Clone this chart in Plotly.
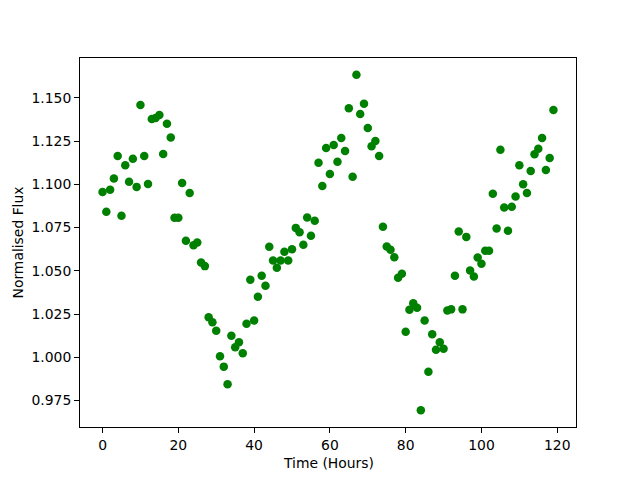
import plotly.graph_objects as go

hours = list(range(120))
flux = [
    1.0956, 1.0841, 1.0968, 1.1033, 1.1164, 1.0818, 1.1110, 1.1014, 1.1148, 1.0985,
    1.1458, 1.1164, 1.1002, 1.1377, 1.1383, 1.1400, 1.1175, 1.1350, 1.1270, 1.0806,
    1.0806, 1.1008, 1.0673, 1.0950, 1.0648, 1.0664, 1.0548, 1.0527, 1.0231, 1.0202,
    1.0154, 1.0006, 0.9946, 0.9844, 1.0125, 1.0058, 1.0087, 1.0023, 1.0194, 1.0448,
    1.0212, 1.0350, 1.0471, 1.0414, 1.0639, 1.0560, 1.0518, 1.0560, 1.0610, 1.0560,
    1.0625, 1.0748, 1.0723, 1.0650, 1.0808, 1.0702, 1.0789, 1.1124, 1.0990, 1.1210,
    1.1060, 1.1227, 1.1130, 1.1268, 1.1192, 1.1440, 1.1043, 1.1633, 1.1406, 1.1466,
    1.1325, 1.1220, 1.1250, 1.1164, 1.0755, 1.0640, 1.0622, 1.0578, 1.0460, 1.0483,
    1.0148, 1.0275, 1.0313, 1.0287, 0.9694, 1.0212, 0.9917, 1.0133, 1.0044, 1.0087,
    1.0050, 1.0271, 1.0277, 1.0471, 1.0727, 1.0277, 1.0696, 1.0502, 1.0467, 1.0577,
    1.0541, 1.0616, 1.0616, 1.0945, 1.0744, 1.1200, 1.0866, 1.0731, 1.0870, 1.0929,
    1.1110, 1.1000, 1.0950, 1.1077, 1.1173, 1.1206, 1.1268, 1.1083, 1.1152, 1.1429,
]
x_ticks = [0, 20, 40, 60, 80, 100, 120]
y_ticks = [0.975, 1.000, 1.025, 1.050, 1.075, 1.100, 1.125, 1.150]
x_title = "Time (Hours)"
y_title = "Normalised Flux"

fig = go.Figure(go.Scatter(
    x=hours, y=flux, mode="markers",
    marker=dict(color="#008000", size=8.5, line=dict(width=0)),
))

xmin, xmax = min(hours), max(hours)
ymin, ymax = min(flux), max(flux)
xpad = 0.05 * (xmax - xmin)
ypad = 0.05 * (ymax - ymin)

FS = 13.9
TF = dict(family="DejaVu Sans", size=FS, color="black")
axis_common = dict(
    showgrid=False, zeroline=False, showline=True, mirror=True,
    linecolor="black", linewidth=1.1, ticks="outside", ticklen=4.9,
    tickwidth=1.1, tickcolor="black", automargin=False, tickfont=TF,
)

# the page body has an 8px default margin, so the figure is shifted by 8px
fig.update_layout(
    width=632, height=472,
    margin=dict(l=72, r=64, t=50, b=53),
    paper_bgcolor="white", plot_bgcolor="white",
    showlegend=False,
    font=TF,
    xaxis=dict(range=[xmin - xpad, xmax + xpad], tickvals=x_ticks, **axis_common),
    yaxis=dict(range=[ymin - ypad, ymax + ypad], tickvals=y_ticks,
               tickformat=".3f", **axis_common),
    annotations=[
        dict(text=x_title, xref="paper", yref="paper", x=0.5, y=0,
             xanchor="center", yanchor="middle", yshift=-36,
             showarrow=False, font=TF),
        dict(text=y_title, xref="paper", yref="paper", x=0, y=0.5,
             xanchor="center", yanchor="middle", xshift=-63, textangle=-90,
             showarrow=False, font=TF),
    ],
)

fig.write_html("out.html")
